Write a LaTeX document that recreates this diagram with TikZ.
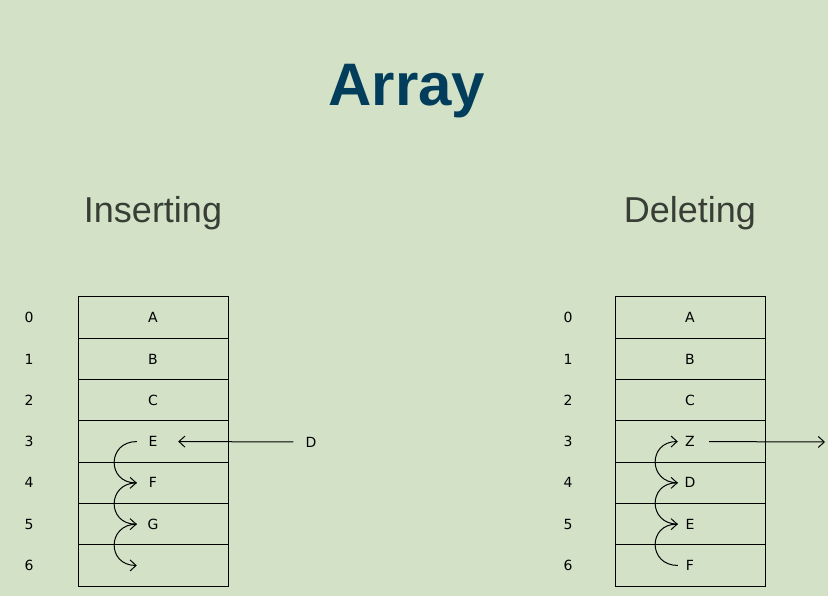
\documentclass[tikz,border=0pt]{standalone}
\usepackage{fontspec}
\usetikzlibrary{arrows.meta}
\setmainfont{Liberation Sans}
\newfontfamily\cellfont{DejaVu Sans}
\definecolor{bgGreen}{RGB}{211,226,199}
\definecolor{titleBlue}{RGB}{2,62,92}
\definecolor{headGray}{RGB}{56,62,54}
\tikzset{
  cell/.style={draw,line width=1pt,minimum width=150pt,minimum height=41.3pt,inner sep=0pt},
  entry/.style={font=\cellfont\fontsize{14}{14}\selectfont,inner sep=0pt},
  index/.style={font=\cellfont\fontsize{14}{14}\selectfont,inner sep=0pt},
  moveArrow/.style={-{Straight Barb[length=6pt,width=11pt,line width=1pt]},line width=1pt},
  heading/.style={font=\fontsize{36}{36}\selectfont,text=headGray,anchor=base}
}
\begin{document}
\begin{tikzpicture}[x=1pt,y=-1pt]
  \fill[bgGreen] (0,0) rectangle (828,596);
  \useasboundingbox (0,0) rectangle (828,596);
  \node[font=\bfseries\fontsize{60}{60}\selectfont,text=titleBlue,anchor=base] (title) at (407,106) {Array};
  \node[heading] (insHead) at (153,223) {Inserting};
  \node[heading] (delHead) at (690,223) {Deleting};
  % the two arrays
  \foreach \i in {0,...,6}{
    \node[cell] (insCell\i) at (153,{317.65+41.3*\i}) {};
    \node[cell] (delCell\i) at (690,{317.65+41.3*\i}) {};
    \node[index] (insIdx\i) at (29,{317.65+41.3*\i}) {\i};
    \node[index] (delIdx\i) at (568,{317.65+41.3*\i}) {\i};
  }
  \foreach \i/\t in {0/A,1/B,2/C,3/E,4/F,5/G,6/{}}
    \node[entry,minimum width=32pt] (ins\i) at (153,{317.65+41.3*\i}) {\t};
  \foreach \i/\t in {0/A,1/B,2/C,3/Z,4/D,5/E,6/F}
    \node[entry,minimum width=24pt] (del\i) at (690,{317.65+41.3*\i}) {\t};
  % inserting: shift down
  \node[entry] (insNew) at (311,442) {D};
  \draw[moveArrow,shorten <=12pt,shorten >=9pt] (insNew) -- (ins3.east);
  \foreach \i [count=\j from 4] in {3,4,5}
    \draw[moveArrow] (ins\i.west) .. controls +(-30,0) and +(-30,0) .. (ins\j.west);
  % deleting: shift up
  \coordinate (delOut) at (825,442);
  \draw[moveArrow,shorten <=7pt] (del3.east) -- (delOut);
  \foreach \i [count=\j from 4] in {3,4,5}
    \draw[moveArrow] (del\j.west) .. controls +(-30,0) and +(-30,0) .. (del\i.west);
\end{tikzpicture}
\end{document}
